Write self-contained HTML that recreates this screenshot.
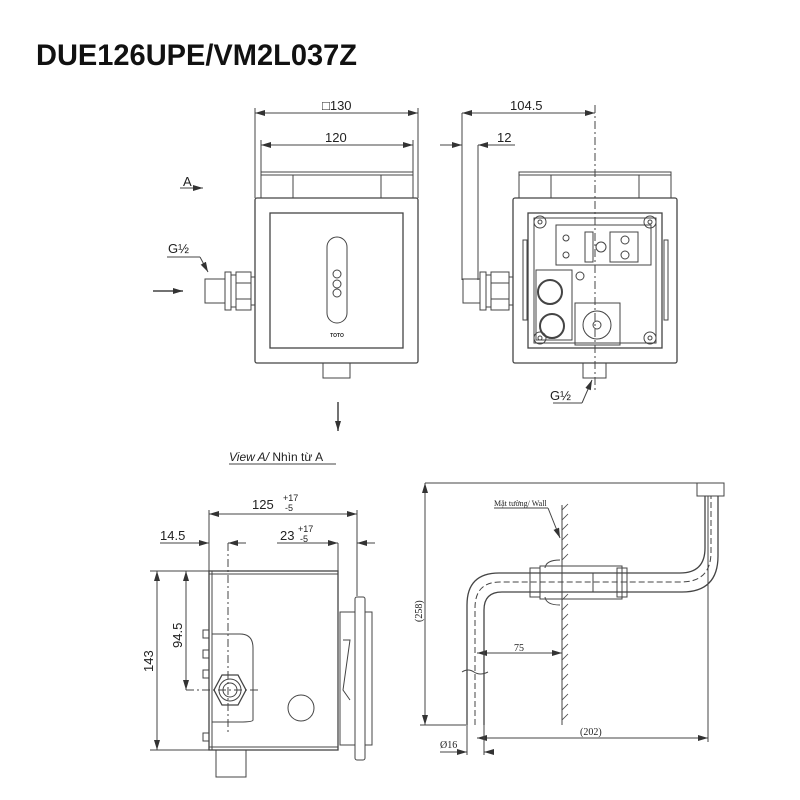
<!DOCTYPE html>
<html><head><meta charset="utf-8"><style>
html,body{margin:0;padding:0;background:#fff;width:800px;height:800px;overflow:hidden}
svg{display:block}
text{font-family:"Liberation Sans",sans-serif;fill:#222}
</style></head><body>
<svg width="800" height="800" viewBox="0 0 800 800" xmlns="http://www.w3.org/2000/svg">
<defs>
<marker id="ar" viewBox="0 0 10 6" refX="10" refY="3" markerWidth="10" markerHeight="6" orient="auto-start-reverse" markerUnits="userSpaceOnUse"><path d="M0,0L10,3L0,6z" fill="#333"/></marker>
</defs>
<text x="36" y="65" font-size="30" font-weight="bold" textLength="321" lengthAdjust="spacingAndGlyphs" style="fill:#111">DUE126UPE/VM2L037Z</text>

<g stroke="#444" fill="none" stroke-width="1">
<!-- FRONT VIEW -->
<line x1="255" y1="113" x2="418" y2="113" marker-start="url(#ar)" marker-end="url(#ar)"/>
<line x1="255" y1="108" x2="255" y2="198"/><line x1="418" y1="108" x2="418" y2="198"/>
<line x1="261" y1="145" x2="413" y2="145" marker-start="url(#ar)" marker-end="url(#ar)"/>
<line x1="261" y1="140" x2="261" y2="172"/><line x1="413" y1="140" x2="413" y2="172"/>
<rect x="261" y="172" width="152" height="26"/>
<line x1="261" y1="175" x2="413" y2="175"/>
<line x1="293" y1="175" x2="293" y2="198"/><line x1="381" y1="175" x2="381" y2="198"/>
<rect x="255" y="198" width="163" height="165" rx="2" stroke-width="1.3"/>
<rect x="270" y="213" width="133" height="135" stroke-width="1.3"/>
<rect x="327" y="237" width="20" height="86" rx="10"/>
<circle cx="337" cy="274" r="4"/><circle cx="337" cy="284" r="4"/><circle cx="337" cy="293" r="4"/>
<rect x="323" y="363" width="27" height="15"/>
<!-- left fitting -->
<rect x="205" y="279" width="20" height="24"/>
<rect x="225" y="272" width="6" height="38"/>
<rect x="231" y="275" width="5" height="32"/>
<rect x="236" y="272" width="15" height="38"/>
<line x1="236" y1="283" x2="251" y2="283"/><line x1="236" y1="299" x2="251" y2="299"/>
<rect x="251" y="277" width="4" height="28"/>
<line x1="167" y1="257" x2="200" y2="257"/><line x1="200" y1="257" x2="208" y2="272" marker-end="url(#ar)"/>
<line x1="153" y1="291" x2="183" y2="291" stroke-width="1.5" marker-end="url(#ar)"/>
<line x1="180" y1="188" x2="203" y2="188" marker-end="url(#ar)"/>
<line x1="338" y1="402" x2="338" y2="431" stroke-width="1.5" marker-end="url(#ar)"/>

<!-- SIDE VIEW -->
<line x1="462" y1="113" x2="595" y2="113" marker-start="url(#ar)" marker-end="url(#ar)"/>
<line x1="462" y1="113" x2="462" y2="280"/>
<line x1="440" y1="145" x2="462" y2="145" marker-end="url(#ar)"/>
<line x1="478" y1="145" x2="515" y2="145" marker-start="url(#ar)"/>
<line x1="478" y1="145" x2="478" y2="280"/>
<line x1="595" y1="105" x2="595" y2="392" stroke-dasharray="8,3,2,3"/>
<rect x="519" y="172" width="152" height="26"/>
<line x1="519" y1="175" x2="671" y2="175"/>
<line x1="551" y1="175" x2="551" y2="198"/><line x1="639" y1="175" x2="639" y2="198"/>
<rect x="513" y="198" width="164" height="165" rx="2" stroke-width="1.3"/>
<rect x="528" y="213" width="134" height="135" stroke-width="1.3"/>
<rect x="534" y="218" width="122" height="125"/>
<circle cx="540" cy="222" r="6"/><circle cx="650" cy="222" r="6"/><circle cx="540" cy="338" r="6"/><circle cx="650" cy="338" r="6"/>
<circle cx="540" cy="222" r="2"/><circle cx="650" cy="222" r="2"/><circle cx="540" cy="338" r="2"/><circle cx="650" cy="338" r="2"/>
<rect x="556" y="225" width="95" height="40"/>
<circle cx="566" cy="238" r="3"/><circle cx="566" cy="255" r="3"/>
<rect x="585" y="232" width="8" height="30"/>
<circle cx="601" cy="247" r="5"/>
<rect x="610" y="232" width="28" height="30"/>
<circle cx="625" cy="240" r="4"/><circle cx="625" cy="255" r="4"/>
<rect x="536" y="270" width="36" height="70"/>
<circle cx="550" cy="292" r="12" stroke-width="2"/>
<circle cx="552" cy="326" r="12" stroke-width="2"/>
<circle cx="580" cy="276" r="4"/>
<rect x="575" y="303" width="45" height="42"/>
<circle cx="597" cy="325" r="14"/><circle cx="597" cy="325" r="4"/>
<rect x="545" y="236" width="0" height="0"/>
<rect x="523" y="240" width="4" height="80"/><rect x="664" y="240" width="4" height="80"/>
<rect x="583" y="363" width="23" height="15"/>
<rect x="463" y="279" width="17" height="24"/>
<rect x="480" y="272" width="6" height="38"/>
<rect x="486" y="275" width="5" height="32"/>
<rect x="491" y="272" width="18" height="38"/>
<line x1="491" y1="283" x2="509" y2="283"/><line x1="491" y1="299" x2="509" y2="299"/>
<rect x="509" y="277" width="4" height="28"/>
<line x1="553" y1="403" x2="582" y2="403"/><line x1="582" y1="403" x2="592" y2="380" marker-end="url(#ar)"/>

<line x1="229" y1="464" x2="336" y2="464"/>

<!-- BOTTOM LEFT VIEW -->
<line x1="209" y1="514" x2="357" y2="514" marker-start="url(#ar)" marker-end="url(#ar)"/>
<line x1="209" y1="510" x2="209" y2="571"/><line x1="357" y1="510" x2="357" y2="596"/>
<line x1="160" y1="543" x2="209" y2="543" marker-end="url(#ar)"/>
<line x1="228" y1="543" x2="246" y2="543" marker-start="url(#ar)"/>
<line x1="277" y1="543" x2="338" y2="543" marker-end="url(#ar)"/>
<line x1="357" y1="543" x2="375" y2="543" marker-start="url(#ar)"/>
<line x1="338" y1="543" x2="338" y2="571"/>
<line x1="228" y1="543" x2="228" y2="735" stroke-dasharray="8,3,2,3"/>
<line x1="157" y1="571" x2="157" y2="750" marker-start="url(#ar)" marker-end="url(#ar)"/>
<line x1="150" y1="571" x2="209" y2="571"/><line x1="150" y1="750" x2="209" y2="750"/>
<line x1="186" y1="571" x2="186" y2="690" marker-start="url(#ar)" marker-end="url(#ar)"/>
<line x1="186" y1="690" x2="260" y2="690" stroke-dasharray="8,3,2,3"/>
<rect x="209" y="571" width="129" height="179" stroke-width="1.3"/>
<line x1="212" y1="571" x2="212" y2="750"/><line x1="209" y1="574" x2="338" y2="574"/><line x1="209" y1="747" x2="338" y2="747"/>
<path d="M212,634 H240 Q253,634 253,648 V720 Q253,722 240,722 H212"/>
<rect x="203" y="630" width="6" height="8"/><rect x="203" y="650" width="6" height="8"/><rect x="203" y="670" width="6" height="8"/><rect x="203" y="733" width="6" height="8"/>
<polygon points="222,675 238,675 246,690 238,705 222,705 214,690" stroke-width="1.3"/>
<circle cx="230" cy="690" r="11"/><circle cx="230" cy="690" r="7"/>
<circle cx="301" cy="708" r="13"/>
<rect x="216" y="750" width="30" height="27"/>
<rect x="355" y="597" width="10" height="163" rx="2"/>
<rect x="365" y="612" width="7" height="133"/>
<rect x="340" y="612" width="15" height="133"/>
<path d="M343,640 L350,640 L343,690 L350,700" />

<!-- PIPE VIEW -->
<line x1="425" y1="483" x2="718" y2="483"/>
<line x1="425" y1="483" x2="425" y2="725" marker-start="url(#ar)" marker-end="url(#ar)"/>
<line x1="420" y1="725" x2="466" y2="725"/>
<line x1="477" y1="738" x2="708" y2="738" marker-start="url(#ar)" marker-end="url(#ar)"/>
<line x1="708" y1="496" x2="708" y2="742"/>
<line x1="440" y1="752" x2="467" y2="752" marker-end="url(#ar)"/>
<line x1="484" y1="752" x2="492" y2="752" marker-start="url(#ar)"/>
<line x1="467" y1="725" x2="467" y2="755"/><line x1="484" y1="725" x2="484" y2="755"/>
<line x1="477" y1="653" x2="562" y2="653" marker-start="url(#ar)" marker-end="url(#ar)"/>
<line x1="562" y1="505" x2="562" y2="725"/>
<g stroke-width="0.8">
<path d="M562,510l6,-6M562,520l6,-6M562,530l6,-6M562,540l6,-6M562,550l6,-6M562,560l6,-6M562,600l6,-6M562,610l6,-6M562,620l6,-6M562,630l6,-6M562,640l6,-6M562,650l6,-6M562,660l6,-6M562,670l6,-6M562,680l6,-6M562,690l6,-6M562,700l6,-6M562,710l6,-6M562,720l6,-6"/>
</g>
<line x1="494" y1="508" x2="548" y2="508"/><line x1="548" y1="508" x2="560" y2="538" marker-end="url(#ar)"/>
<path d="M467,725 V605 Q467,573 499,573 H680 Q705,573 705,548 V496" stroke-width="1.3"/>
<path d="M484,725 V610 Q484,592 502,592 H682 Q718,592 718,556 V496" stroke-width="1.3"/>
<path d="M475,725 V608 Q475,582 500,582 H681 Q711,582 711,552 V496" stroke-dasharray="6,3"/>
<rect x="697" y="483" width="27" height="13"/>
<rect x="540" y="566" width="82" height="33"/>
<rect x="530" y="568" width="10" height="29"/>
<rect x="617" y="568" width="10" height="29"/>
<path d="M560,560 Q546,560 545,568 M560,605 Q546,605 545,597"/>
<line x1="593" y1="573" x2="593" y2="592"/>
<path d="M462,672 Q468,668 474,672 T488,672"/>
</g>

<g font-size="13">
<text x="322" y="110">□130</text>
<text x="325" y="142">120</text>
<text x="183" y="186">A</text>
<text x="168" y="253">G½</text>
<text x="510" y="110">104.5</text>
<text x="497" y="142">12</text>
<text x="550" y="400">G½</text>
<text x="229" y="461" font-size="12"><tspan font-style="italic">View A/</tspan> Nhìn từ A</text>
<text x="252" y="509">125</text><text x="283" y="501" font-size="9">+17</text><text x="285" y="511" font-size="9">-5</text>
<text x="160" y="540">14.5</text>
<text x="280" y="540">23</text><text x="298" y="532" font-size="9">+17</text><text x="300" y="542" font-size="9">-5</text>
<text transform="translate(153,672) rotate(-90)">143</text>
<text transform="translate(182,648) rotate(-90)">94.5</text>
</g>
<g font-family="Liberation Serif" style="font-family:'Liberation Serif',serif">
<text x="494" y="506" font-size="8" style="font-family:'Liberation Serif',serif">Mặt tường/ Wall</text>
<text x="514" y="651" font-size="10" style="font-family:'Liberation Serif',serif">75</text>
<text transform="translate(422,622) rotate(-90)" font-size="10" style="font-family:'Liberation Serif',serif">(258)</text>
<text x="580" y="735" font-size="10" style="font-family:'Liberation Serif',serif">(202)</text>
<text x="440" y="748" font-size="10" style="font-family:'Liberation Serif',serif">Ø16</text>
</g>
<text x="337" y="337" font-size="5" text-anchor="middle" font-weight="bold">TOTO</text>
</svg>
</body></html>
